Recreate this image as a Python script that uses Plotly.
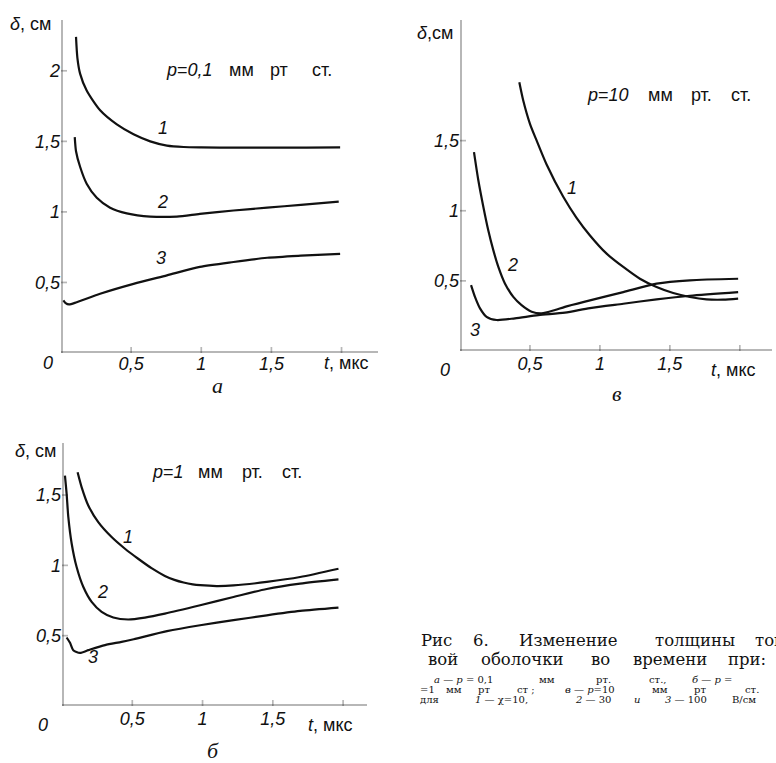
import plotly.graph_objects as go

W, H = 776, 763

# ---- data: shell thickness delta (cm) vs time t (us) ----
# panel "а": p = 0,1 mm Hg
a_t1 = [0.107, 0.117, 0.136, 0.183, 0.279, 0.398, 0.517, 0.636, 0.755, 0.874, 1.0, 1.25, 1.5, 1.75, 1.99]
a_d1 = [2.24, 2.09, 1.98, 1.86, 1.72, 1.62, 1.55, 1.50, 1.47, 1.46, 1.457, 1.455, 1.455, 1.456, 1.457]
a_t2 = [0.098, 0.107, 0.136, 0.183, 0.255, 0.35, 0.469, 0.636, 0.826, 0.99, 1.23, 1.47, 1.71, 1.98]
a_d2 = [1.53, 1.43, 1.32, 1.20, 1.10, 1.03, 0.99, 0.967, 0.967, 0.986, 1.01, 1.03, 1.05, 1.073]
a_t3 = [0.017, 0.033, 0.057, 0.112, 0.279, 0.517, 0.755, 0.99, 1.23, 1.47, 1.71, 1.99]
a_d3 = [0.373, 0.354, 0.344, 0.36, 0.42, 0.49, 0.55, 0.61, 0.645, 0.675, 0.69, 0.703]

# panel "в": p = 10 mm Hg
v_t1 = [0.424, 0.452, 0.5, 0.548, 0.619, 0.738, 0.833, 0.929, 1.048, 1.167, 1.286, 1.405, 1.524, 1.643, 1.762, 1.881, 1.988]
v_d1 = [1.916, 1.786, 1.62, 1.50, 1.33, 1.10, 0.95, 0.824, 0.694, 0.599, 0.515, 0.456, 0.413, 0.385, 0.368, 0.366, 0.373]
v_t2 = [0.10, 0.131, 0.167, 0.202, 0.238, 0.274, 0.321, 0.381, 0.44, 0.512, 0.583, 0.679, 0.75, 0.929, 1.167, 1.405, 1.643, 1.988]
v_d2 = [1.418, 1.217, 1.027, 0.861, 0.719, 0.60, 0.482, 0.386, 0.327, 0.28, 0.268, 0.292, 0.315, 0.361, 0.42, 0.48, 0.504, 0.515]
v_t3 = [0.079, 0.107, 0.143, 0.19, 0.262, 0.393, 0.56, 0.75, 0.929, 1.167, 1.405, 1.643, 1.988]
v_d3 = [0.47, 0.386, 0.304, 0.244, 0.221, 0.233, 0.256, 0.273, 0.306, 0.337, 0.368, 0.394, 0.42]

# panel "б": p = 1 mm Hg
b_t1 = [0.111, 0.14, 0.187, 0.258, 0.353, 0.448, 0.542, 0.637, 0.732, 0.8, 0.865, 0.93, 0.983, 1.1, 1.22, 1.457, 1.694, 1.967]
b_d1 = [1.662, 1.555, 1.426, 1.307, 1.201, 1.118, 1.047, 0.98, 0.925, 0.897, 0.878, 0.865, 0.859, 0.853, 0.857, 0.882, 0.917, 0.976]
b_t2 = [0.021, 0.033, 0.045, 0.069, 0.104, 0.152, 0.211, 0.282, 0.365, 0.471, 0.59, 0.732, 0.983, 1.22, 1.457, 1.694, 1.967]
b_d2 = [1.638, 1.508, 1.343, 1.154, 0.988, 0.846, 0.74, 0.669, 0.629, 0.615, 0.629, 0.657, 0.716, 0.775, 0.832, 0.87, 0.90]
b_t3 = [0.033, 0.057, 0.08, 0.128, 0.187, 0.306, 0.424, 0.51, 0.747, 0.983, 1.22, 1.457, 1.694, 1.967]
b_d3 = [0.487, 0.449, 0.397, 0.378, 0.397, 0.433, 0.456, 0.475, 0.532, 0.574, 0.61, 0.645, 0.676, 0.70]

x_ticks = [0.5, 1, 1.5, 2]
x_ticktext = ["0,5", "1", "1,5", ""]
y_ticks_a = [0.5, 1, 1.5, 2]
y_ticktext_a = ["0,5", "1", "1,5", "2"]
y_ticks_bv = [0.5, 1, 1.5]
y_ticktext_bv = ["0,5", "1", "1,5"]

SANS = "Liberation Sans"
SERIF = "Liberation Serif"
CAPTION = "DejaVu Serif"
INK = "#111111"
TICK_PX = 6      # inward tick length
SPINE_PX = 2.0   # spine thickness
TICK_W_PX = 1.7  # tick thickness


def fx(px):
    return px / W


def fy(py):
    return 1 - py / H


fig = go.Figure()

panels = [
    # name, axes suffix, curves, x-domain px, y-domain px, axis maxima, x label shift
    ("a", "", [(a_t1, a_d1), (a_t2, a_d2), (a_t3, a_d3)], (61, 378), (20, 353), 2.26, 2.36, -2),
    ("v", "2", [(v_t1, v_d1), (v_t2, v_d2), (v_t3, v_d3)], (460, 772), (20, 351), 2.23, 2.36, 0),
    ("b", "3", [(b_t1, b_d1), (b_t2, b_d2), (b_t3, b_d3)], (62, 367), (443, 706), 2.17, 1.87, 0),
]

layout_axes = {}
shapes = []
for name, suf, curves, (x0, x1), (y0, y1), xmax, ymax, xshift in panels:
    for t, d in curves:
        fig.add_trace(go.Scatter(
            x=t, y=d, mode="lines", xaxis="x" + suf, yaxis="y" + suf,
            line=dict(color=INK, width=2.2, shape="spline", smoothing=0.7),
            hoverinfo="skip", showlegend=False,
        ))
    yt, ytt = (y_ticks_a, y_ticktext_a) if name == "a" else (y_ticks_bv, y_ticktext_bv)
    common = dict(showgrid=False, zeroline=False, showline=False, ticks="",
                  tickfont=dict(family=SANS, size=18, color=INK))
    layout_axes["xaxis" + suf] = dict(common, domain=[fx(x0), fx(x1)], range=[0, xmax],
                                      tickvals=x_ticks,
                                      ticktext=["<i>%s</i>" % s for s in x_ticktext],
                                      anchor="y" + suf, ticklabelstandoff=xshift)
    layout_axes["yaxis" + suf] = dict(common, domain=[fy(y1), fy(y0)], range=[0, ymax],
                                      tickvals=yt, ticktext=["<i>%s</i>" % s for s in ytt],
                                      anchor="x" + suf)

    # spines and inward ticks drawn as thin filled bars on the panel's own axes
    xd, yd = "x%s domain" % suf, "y%s domain" % suf
    xlen, ylen = x1 - x0, y1 - y0
    bar = dict(type="rect", fillcolor=INK, line=dict(width=0), layer="above")
    shapes.append(dict(bar, xref=xd, yref=yd, x0=0, x1=1, y0=0, y1=SPINE_PX / ylen))
    shapes.append(dict(bar, xref=xd, yref=yd, x0=0, x1=SPINE_PX / xlen, y0=0, y1=1))
    hw = TICK_W_PX / 2 / xlen * xmax
    for v in x_ticks:
        shapes.append(dict(bar, xref="x" + suf, yref=yd, x0=v - hw, x1=v + hw,
                           y0=0, y1=TICK_PX / ylen))
    hh = TICK_W_PX / 2 / ylen * ymax
    for v in yt:
        shapes.append(dict(bar, xref=xd, yref="y" + suf, x0=0, x1=TICK_PX / xlen,
                           y0=v - hh, y1=v + hh))

annotations = []


def ann(text, x, y, size=18, family=SANS, xanchor="center", yanchor="middle"):
    annotations.append(dict(text=text, x=fx(x), y=fy(y), xref="paper", yref="paper",
                            showarrow=False, xanchor=xanchor, yanchor=yanchor,
                            font=dict(family=family, size=size, color=INK)))


# axis captions and origin marks
ann("<i>δ</i>, см", 53, 24, xanchor="right")
ann("<i>0</i>", 48, 363)
ann("<i>t</i>, мкс", 346, 363)
ann("<i>а</i>", 217, 385, size=22, family=SERIF)

ann("<i>δ</i>,см", 455, 33, xanchor="right")
ann("<i>0</i>", 445, 370)
ann("<i>t</i>, мкс", 733, 370)
ann("<i>в</i>", 617, 393, size=22, family=SERIF)

ann("<i>δ</i>, см", 58, 451, xanchor="right")
ann("<i>0</i>", 43, 725)
ann("<i>t</i>, мкс", 330, 725)
ann("<i>б</i>", 213, 750, size=22, family=SERIF)

# pressure labels, word by word
for txt, x, y in [("<i>p</i>=<i>0,1</i>", 189, 70), ("мм", 241, 70), ("рт", 279, 70), ("ст.", 322, 70),
                  ("<i>p</i>=<i>10</i>", 608, 95), ("мм", 660, 95), ("рт.", 701, 95), ("ст.", 741, 95),
                  ("<i>p</i>=<i>1</i>", 168, 472), ("мм", 210, 472), ("рт.", 252, 472), ("ст.", 292, 472)]:
    ann(txt, x, y)

# curve numbers
for txt, x, y in [("1", 163, 128), ("2", 162, 202), ("3", 161, 258),
                  ("1", 572, 188), ("2", 512, 265), ("3", 475, 330),
                  ("1", 128, 537), ("2", 102, 592), ("3", 93, 657)]:
    ann("<i>" + txt + "</i>", x, y)

# figure caption (justified text, word by word)
cap = 16.5
for txt, x in [("Рис", 436), ("6.", 481), ("Изменение", 568), ("толщины", 695)]:
    ann(txt, x, 640, size=cap, family=CAPTION)
ann("токо-", 753, 640, size=cap, family=CAPTION, xanchor="left")
for txt, x in [("вой", 443), ("оболочки", 522), ("во", 600), ("времени", 670), ("при:", 747)]:
    ann(txt, x, 659, size=cap, family=CAPTION)

small = 10
for txt, x in [("<i>а</i> — <i>р</i> = 0,1", 463), ("мм", 547), ("рт.", 603), ("ст.,", 658)]:
    ann(txt, x, 679, size=small, family=CAPTION)
ann("<i>б</i> — <i>р</i> =", 690, 679, size=small, family=CAPTION, xanchor="left")
for txt, x in [("=1", 427), ("мм", 454), ("рт", 484), ("ст ;", 526), ("<i>в</i> — <i>р</i>=10", 590),
               ("мм", 660), ("рт", 700), ("ст.", 752)]:
    ann(txt, x, 689, size=small, family=CAPTION)
for txt, x in [("для", 429), ("<i>1</i> — χ=10,", 501), ("<i>2</i> — 30", 593), ("<i>и</i>", 637),
               ("<i>3</i> — 100", 686)]:
    ann(txt, x, 699, size=small, family=CAPTION)
ann("В/см", 730, 699, size=small, family=CAPTION, xanchor="left")

fig.update_layout(
    template="simple_white",
    width=W, height=H, margin=dict(l=0, r=0, t=0, b=0),
    paper_bgcolor="white", plot_bgcolor="white",
    showlegend=False, annotations=annotations, shapes=shapes, **layout_axes,
)

fig.write_html("out.html")
